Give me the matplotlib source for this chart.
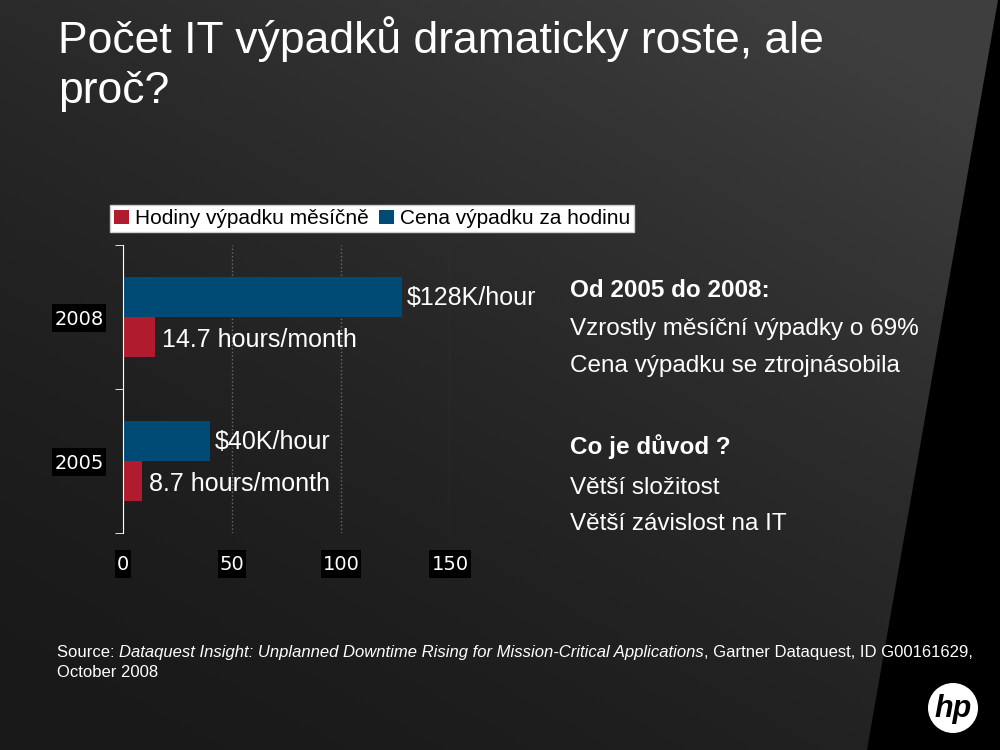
import numpy as np
import matplotlib.pyplot as plt
from matplotlib.patches import Polygon, Circle, Patch, Rectangle

plt.rcParams['font.family'] = ['Liberation Sans', 'DejaVu Sans']

# data
years = ['2005', '2008']
hours_per_month = [8.7, 14.7]
cost_per_hour = [40, 128]
hours_labels = ['8.7 hours/month', '14.7 hours/month']
cost_labels = ['$40K/hour', '$128K/hour']
x_ticks = [0, 50, 100, 150]

red = '#B01C2E'
blue = '#004A76'

fig = plt.figure(figsize=(10, 7.5), dpi=100)

# background gradient, black wedge and logo (pixel coords)
bg = fig.add_axes([0, 0, 1, 1], zorder=-10)
W, H = 1000, 750
xx, yy = np.meshgrid(np.linspace(0, 1, 200), np.linspace(0, 1, 150))
t = np.clip((xx * 0.75 + yy) / 1.6, 0, 1)
v = (0x19 + (0x3e - 0x19) * t ** 1.6) / 255.
img = np.dstack([v, v, v])
bg.imshow(img, extent=[0, W, 0, H], origin='lower', aspect='auto')
bg.add_patch(Polygon([[998, 750], [1000, 750], [1000, 0], [867, 0]], closed=True,
                     facecolor='black', edgecolor='none'))
bg.add_patch(Circle((953, 42), 25, facecolor='white', edgecolor='none'))
bg.text(953, 41, 'hp', ha='center', va='center', color='black', fontsize=22,
        fontweight='bold', fontstyle='italic')
bg.set_xlim(0, W)
bg.set_ylim(0, H)
bg.axis('off')

# title
fig.text(0.058, 1 - 53 / 750, 'Počet IT výpadků dramaticky roste, ale', color='white',
         fontsize=32, va='baseline', ha='left')
fig.text(0.058, 1 - 103 / 750, 'proč?', color='white', fontsize=32, va='baseline', ha='left')

# chart
ax = fig.add_axes([0.123, 0.2893, 0.327, 0.384])
ax.set_facecolor('none')
y = np.arange(len(years))
h = 0.28
ax.barh(y + h / 2, cost_per_hour, height=h, color=blue)
ax.barh(y - h / 2, hours_per_month, height=h, color=red)
for i in range(len(years)):
    ax.text(cost_per_hour[i] + 2.2, y[i] + h / 2 - 0.01, cost_labels[i], color='white',
            fontsize=18, va='center', ha='left')
    ax.text(hours_per_month[i] + 3.0, y[i] - h / 2 - 0.02, hours_labels[i], color='white',
            fontsize=18, va='center', ha='left')

ax.set_xlim(0, 150)
ax.set_ylim(-0.5, 1.5)
ax.set_xticks(x_ticks)
ax.set_yticks(y)
ax.set_yticklabels(years)
ax.set_yticks([-0.5, 0.5, 1.5], minor=True)
ax.xaxis.grid(True, linestyle=':', color='#6a6a6a', linewidth=1)
ax.set_axisbelow(True)
for s in ['top', 'right', 'bottom']:
    ax.spines[s].set_visible(False)
ax.spines['left'].set_color('white')
ax.tick_params(axis='y', which='major', length=0, pad=14, labelcolor='white')
ax.tick_params(axis='y', which='minor', length=6, color='white')
ax.tick_params(axis='x', length=0, pad=16, labelcolor='white')
for lab in ax.get_xticklabels() + ax.get_yticklabels():
    lab.set_fontfamily('DejaVu Sans')
    lab.set_fontsize(14)

handles = [Patch(facecolor=red), Patch(facecolor=blue)]
leg = fig.legend(handles, ['Hodiny výpadku měsíčně', 'Cena výpadku za hodinu'],
                 loc='upper left', bbox_to_anchor=(0.110, 1 - 205 / 750), ncol=2, fontsize=15,
                 frameon=True, fancybox=False, handlelength=0.7, handleheight=0.7,
                 handletextpad=0.3, columnspacing=0.5, borderpad=0.2, borderaxespad=0)
leg.get_frame().set_facecolor('white')
leg.get_frame().set_edgecolor('#cccccc')
leg.get_frame().set_alpha(1)

# right-hand text
lines = [('Od 2005 do 2008:', 'bold', 0.613),
         ('Vzrostly měsíční výpadky o 69%', 'normal', 0.561),
         ('Cena výpadku se ztrojnásobila', 'normal', 0.512),
         ('Co je důvod ?', 'bold', 0.404),
         ('Větší složitost', 'normal', 0.349),
         ('Větší závislost na IT', 'normal', 0.302)]
for txt, w, yy_ in lines:
    fig.text(0.570, yy_, txt, color='white', fontsize=17.5, fontweight=w, va='center', ha='left')

# source
fs = 12
t1 = fig.text(0.057, 0.130, 'Source: ', color='white', fontsize=fs, va='center', ha='left')
fig.canvas.draw()
r = fig.canvas.get_renderer()
bb = t1.get_window_extent(r)
t2 = fig.text(bb.x1 / 1000, 0.130,
              'Dataquest Insight: Unplanned Downtime Rising for Mission-Critical Applications',
              color='white', fontsize=fs, fontstyle='italic', va='center', ha='left')
bb2 = t2.get_window_extent(r)
fig.text(bb2.x1 / 1000, 0.130, ', Gartner Dataquest, ID G00161629,', color='white', fontsize=fs,
         va='center', ha='left')
fig.text(0.057, 0.103, 'October 2008', color='white', fontsize=fs, va='center', ha='left')

# black boxes behind tick labels
fig.canvas.draw()
for lab in ax.get_xticklabels() + ax.get_yticklabels():
    e = lab.get_window_extent(r)
    cy = (e.y0 + e.y1) / 2 + 1
    bg.add_patch(Rectangle((e.x0 - 2, cy - 14), e.width + 4, 28, facecolor='black',
                           edgecolor='none', zorder=5))

fig.savefig('out.png', dpi=100, facecolor='black')
